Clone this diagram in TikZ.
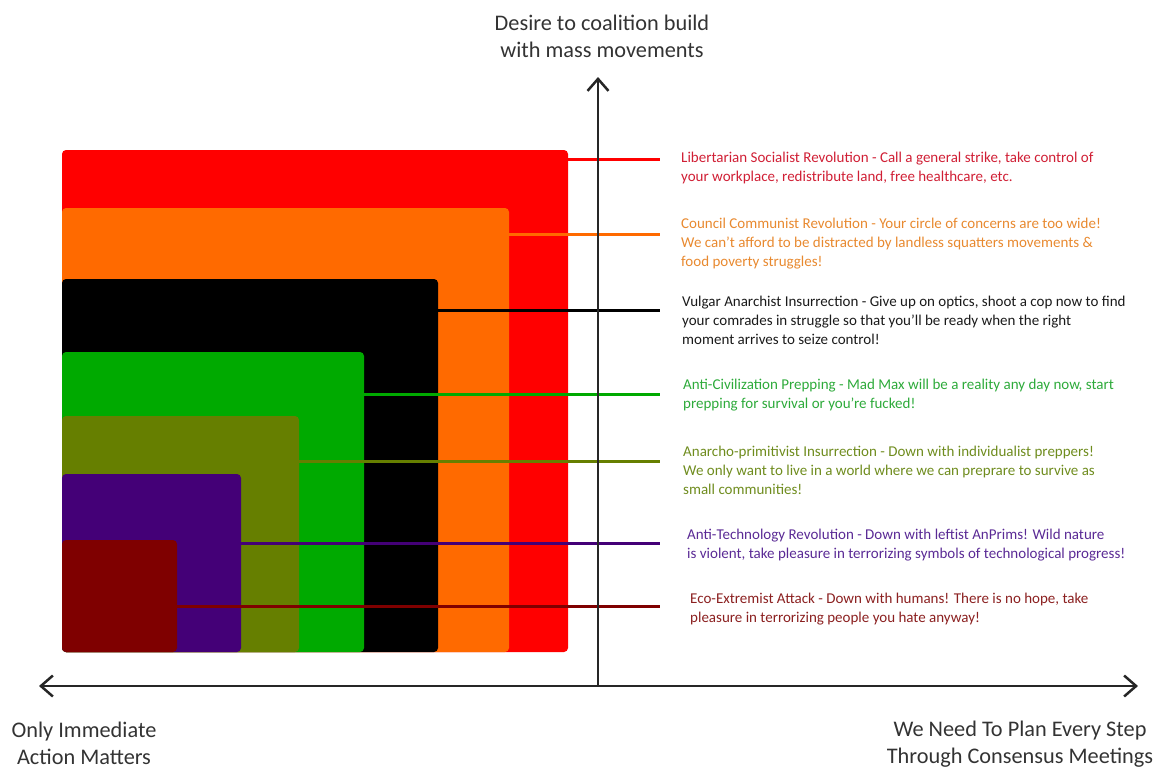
\documentclass[tikz,border=0pt]{standalone}
\usepackage{fontspec}
\setmainfont{Carlito}
\usetikzlibrary{arrows.meta, positioning}

\definecolor{boxred}{HTML}{FF0000}
\definecolor{boxorange}{HTML}{FF6A00}
\definecolor{boxgreen}{HTML}{00AA00}
\definecolor{boxolive}{HTML}{667F00}
\definecolor{boxpurple}{HTML}{440077}
\definecolor{boxdarkred}{HTML}{7F0000}
\definecolor{txtred}{HTML}{D01F35}
\definecolor{txtorange}{HTML}{E8892F}
\definecolor{txtblack}{HTML}{1A1A1A}
\definecolor{txtgreen}{HTML}{2DAA3A}
\definecolor{txtolive}{HTML}{6F8C1E}
\definecolor{txtpurple}{HTML}{5A2A95}
\definecolor{txtdarkred}{HTML}{8B2020}

\tikzset{
  block/.style={anchor=south west, inner sep=0pt, outer sep=0pt, rounded corners=4pt},
  link/.style={line width=3pt},
  axis/.style={line width=2.5pt, black!85},
  caption/.style={anchor=base west, align=left, inner sep=0pt,
                  font=\fontsize{15}{18.7}\selectfont},
  axistitle/.style={anchor=base, align=center, inner sep=0pt, text=black!80,
                    font=\fontsize{22.3}{26.5}\selectfont}
}

\begin{document}
\begin{tikzpicture}[x=1pt, y=-1pt, >={Straight Barb[length=12pt, width=21pt]}]
    \useasboundingbox (0,0) rectangle (1165,772);

    % Nested blocks (largest first)
    \node[block, fill=boxred, minimum width=506pt, minimum height=502pt] (redbox) at (62,652) {};
    \node[block, fill=boxorange, minimum width=447pt, minimum height=444pt] (orangebox) at (62,652) {};
    \node[block, fill=black, minimum width=376pt, minimum height=373pt] (blackbox) at (62,652) {};
    \node[block, fill=boxgreen, minimum width=302pt, minimum height=300pt] (greenbox) at (62,652) {};
    \node[block, fill=boxolive, minimum width=237pt, minimum height=236pt] (olivebox) at (62,652) {};
    \node[block, fill=boxpurple, minimum width=179pt, minimum height=178pt] (purplebox) at (62,652) {};
    \node[block, fill=boxdarkred, minimum width=115pt, minimum height=112pt] (darkredbox) at (62,652) {};

    % Libertarian Socialist (red)
    \coordinate (redend) at (660,159);
    \draw[link, boxred] (redbox.east |- redend) -- (redend);
    \node[caption, text=txtred] (redtext) at (681,181)
      {Libertarian Socialist Revolution - Call a general strike, take control of\\
       your workplace, redistribute land, free healthcare, etc.};

    % Council Communist (orange)
    \coordinate (orangeend) at (660,234);
    \draw[link, boxorange] (orangebox.east |- orangeend) -- (orangeend);
    \node[caption, text=txtorange] (orangetext) at (681,266)
      {Council Communist Revolution - Your circle of concerns are too wide!\\
       We can't afford to be distracted by landless squatters movements \&\\
       food poverty struggles!};

    % Vulgar Anarchist (black)
    \coordinate (blackend) at (660,310);
    \draw[link, black] (blackbox.east |- blackend) -- (blackend);
    \node[caption, text=txtblack] (blacktext) at (682,344)
      {Vulgar Anarchist Insurrection - Give up on optics, shoot a cop now to find\\
       your comrades in struggle so that you'll be ready when the right\\
       moment arrives to seize control!};

    % Anti-Civilization (green)
    \coordinate (greenend) at (660,394);
    \draw[link, boxgreen] (greenbox.east |- greenend) -- (greenend);
    \node[caption, text=txtgreen] (greentext) at (683,408)
      {Anti-Civilization Prepping - Mad Max will be a reality any day now, start\\
       prepping for survival or you're fucked!};

    % Anarcho-primitivist (olive)
    \coordinate (oliveend) at (660,461);
    \draw[link, boxolive] (olivebox.east |- oliveend) -- (oliveend);
    \node[caption, text=txtolive] (olivetext) at (683,494)
      {Anarcho-primitivist Insurrection - Down with individualist preppers!\\
       We only want to live in a world where we can preprare to survive as\\
       small communities!};

    % Anti-Technology (purple)
    \coordinate (purpleend) at (660,543);
    \draw[link, boxpurple] (purplebox.east |- purpleend) -- (purpleend);
    \node[caption, text=txtpurple] (purpletext) at (687,558)
      {Anti-Technology Revolution - Down with leftist AnPrims! Wild nature\\
       is violent, take pleasure in terrorizing symbols of technological progress!};

    % Eco-Extremist (dark red)
    \coordinate (darkredend) at (660,606);
    \draw[link, boxdarkred] (darkredbox.east |- darkredend) -- (darkredend);
    \node[caption, text=txtdarkred] (darkredtext) at (690,622)
      {Eco-Extremist Attack - Down with humans! There is no hope, take\\
       pleasure in terrorizing people you hate anyway!};

    % Axes
    \coordinate (origin) at (598,686);
    \coordinate (xleft) at (39,686);
    \coordinate (xright) at (1138,686);
    \coordinate (ytop) at (598,77);
    \draw[axis, <->] (xleft) -- (xright);
    \draw[axis, ->] (origin) -- (ytop);

    \node[axistitle] (ytitle) at (602,57) {Desire to coalition build\\with mass movements};
    \node[axistitle] (lefttitle) at (84,764) {Only Immediate\\Action Matters};
    \node[axistitle] (righttitle) at (1020,763) {We Need To Plan Every Step\\Through Consensus Meetings};
  \end{tikzpicture}
\end{document}
